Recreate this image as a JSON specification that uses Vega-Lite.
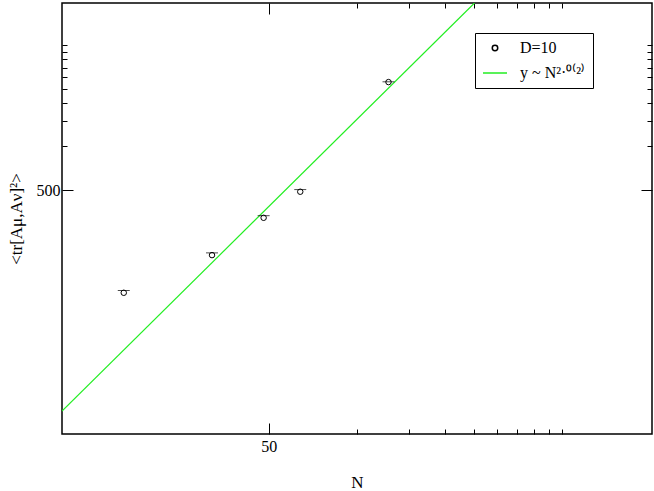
{
  "$schema": "https://vega.github.io/schema/vega-lite/v6.json",
  "width": 590,
  "height": 431,
  "autosize": "none",
  "padding": {"left": 62, "top": 3, "right": 2, "bottom": 57},
  "background": "white",
  "config": {
    "view": {"stroke": "black", "strokeWidth": 1.5},
    "font": "Liberation Serif",
    "axis": {
      "grid": false,
      "domain": false,
      "tickColor": "black",
      "tickWidth": 1,
      "labelFont": "Liberation Serif",
      "labelFontSize": 16,
      "labelColor": "black",
      "titleFont": "Liberation Serif",
      "titleFontSize": 17,
      "titleFontWeight": "normal",
      "titleColor": "black"
    },
    "legend": {
      "orient": "none",
      "legendX": 413,
      "legendY": 30,
      "padding": 7,
      "strokeColor": "black",
      "fillColor": "white",
      "labelFont": "Liberation Serif",
      "labelFontSize": 16,
      "labelColor": "black",
      "labelOffset": 12,
      "rowPadding": 4,
      "symbolStrokeWidth": 1.5
    }
  },
  "datasets": {
    "pts": [
      {"N": 16, "val": 97.9, "err_hi": 101.5, "series": "D=10"},
      {"N": 32, "val": 178, "err_hi": 184.5, "series": "D=10"},
      {"N": 48, "val": 322, "err_hi": 333, "series": "D=10"},
      {"N": 64, "val": 487, "err_hi": 504, "series": "D=10"},
      {"N": 128, "val": 2778, "err_hi": 2790, "series": "D=10"}
    ],
    "fit": [
      {"N": 9.85, "val": 14.96, "series": "y ~ N²·⁰⁽²⁾"},
      {"N": 251.5, "val": 9750, "series": "y ~ N²·⁰⁽²⁾"}
    ]
  },
  "layer": [
    {
      "data": {"name": "fit"},
      "mark": {"type": "line", "strokeWidth": 1.2, "clip": true},
      "encoding": {
        "x": {
          "field": "N", "type": "quantitative",
          "scale": {"type": "log", "domain": [9.85, 1014], "nice": false, "zero": false},
          "axis": {
            "orient": "top", "title": null, "labels": false,
            "values": [50, 100, 150, 200, 250, 300, 350, 400, 450, 500],
            "tickSize": {"condition": {"test": "datum.value == 50", "value": -11}, "value": -5}
          }
        },
        "y": {
          "field": "val", "type": "quantitative",
          "scale": {"type": "log", "domain": [10.4, 9750], "nice": false, "zero": false},
          "axis": {
            "orient": "right", "title": null, "labels": false,
            "values": [500, 1000, 1500, 2000, 2500, 3000, 3500, 4000, 4500, 5000],
            "tickSize": {"condition": {"test": "datum.value == 500", "value": -11}, "value": -5}
          }
        },
        "color": {
          "field": "series", "type": "nominal",
          "scale": {"domain": ["D=10", "y ~ N²·⁰⁽²⁾"], "range": ["black", "#22ee22"]},
          "legend": {"title": null}
        }
      }
    },
    {
      "data": {"name": "pts"},
      "mark": {"type": "point", "filled": false, "strokeWidth": 1, "opacity": 1},
      "encoding": {
        "x": {
          "field": "N", "type": "quantitative",
          "axis": {
            "orient": "bottom", "title": "N",
            "values": [50, 100, 150, 200, 250, 300, 350, 400, 450, 500],
            "labelExpr": "datum.value == 50 ? '50' : ''",
            "tickSize": {"condition": {"test": "datum.value == 50", "value": -11}, "value": -5},
            "labelPadding": 15,
            "titlePadding": 20
          }
        },
        "y": {
          "field": "val", "type": "quantitative",
          "axis": {
            "orient": "left", "title": "<tr[Aμ,Aν]²>",
            "values": [500, 1000, 1500, 2000, 2500, 3000, 3500, 4000, 4500, 5000],
            "labelExpr": "datum.value == 500 ? '500' : ''",
            "tickSize": {"condition": {"test": "datum.value == 500", "value": -11}, "value": -5},
            "labelPadding": 13,
            "titlePadding": 11
          }
        },
        "color": {
          "field": "series", "type": "nominal",
          "scale": {"domain": ["D=10", "y ~ N²·⁰⁽²⁾"], "range": ["black", "#22ee22"]},
          "legend": {"title": null}
        },
        "shape": {
          "field": "series", "type": "nominal",
          "scale": {"domain": ["D=10", "y ~ N²·⁰⁽²⁾"], "range": ["circle", "stroke"]},
          "legend": {"title": null}
        },
        "size": {
          "field": "series", "type": "nominal",
          "scale": {"type": "ordinal", "domain": ["D=10", "y ~ N²·⁰⁽²⁾"], "range": [30, 576]},
          "legend": {"title": null}
        }
      }
    },
    {
      "data": {"name": "pts"},
      "mark": {"type": "tick", "orient": "horizontal", "color": "black", "size": 12, "thickness": 1},
      "encoding": {
        "x": {"field": "N", "type": "quantitative", "axis": null},
        "y": {"field": "err_hi", "type": "quantitative", "axis": null}
      }
    }
  ]
}
